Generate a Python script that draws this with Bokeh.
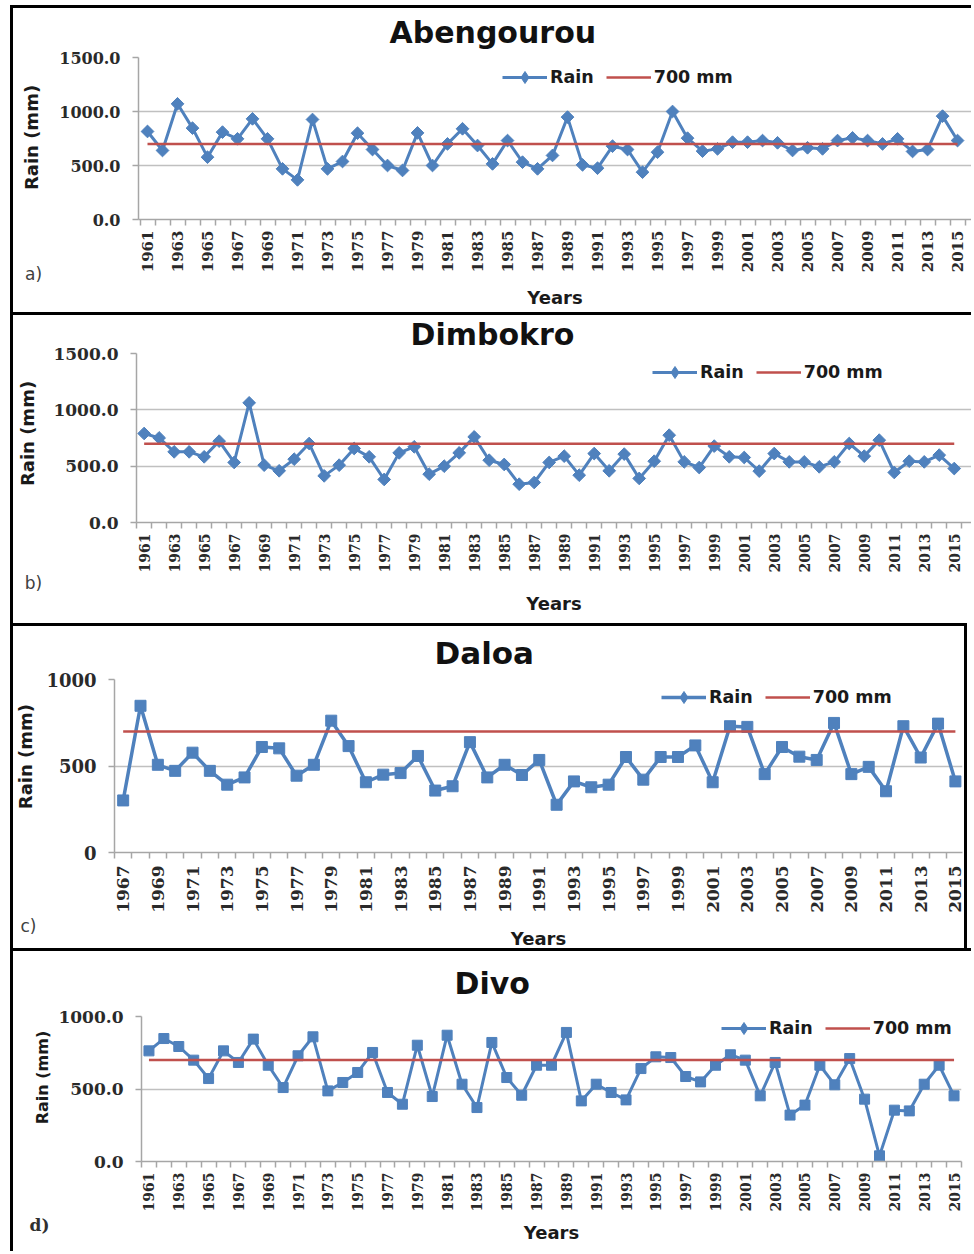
import numpy as np
from bokeh.plotting import figure
from bokeh.layouts import column, row
from bokeh.models import (FixedTicker, NumeralTickFormatter, Label, Legend,
                          LegendItem, Range1d, Spacer)
from bokeh.embed import file_html
from bokeh.resources import INLINE

# ---------------- data ----------------
years_1961 = list(range(1961, 2016))
years_1967 = list(range(1967, 2016))
threshold = 700

abengourou = [815, 639, 1071, 846, 577, 809, 747, 932, 747, 469, 367, 926, 469,
              537, 799, 648, 500, 454, 802, 500, 700, 840, 685, 515, 731, 531,
              469, 593, 948, 506, 475, 679, 648, 438, 623, 1000, 753, 633, 654,
              716, 716, 731, 710, 639, 664, 654, 731, 756, 731, 700, 747, 630,
              648, 957, 731]
dimbokro = [790, 751, 627, 627, 583, 722, 533, 1062, 509, 459, 562, 701, 414,
            509, 657, 583, 382, 618, 672, 429, 500, 618, 760, 553, 515, 340,
            355, 533, 589, 420, 612, 459, 607, 391, 544, 775, 538, 488, 678,
            583, 577, 456, 612, 538, 538, 494, 538, 701, 589, 731, 444, 544,
            538, 598, 479]
daloa = [301, 848, 507, 472, 577, 472, 392, 434, 610, 602, 444, 507, 762, 615,
         406, 450, 459, 558, 358, 383, 638, 434, 507, 448, 535, 276, 411, 377,
         392, 552, 421, 552, 552, 619, 406, 730, 726, 453, 610, 554, 535, 749,
         453, 495, 354, 730, 549, 745, 411]
divo = [763, 848, 793, 699, 572, 763, 683, 844, 664, 510, 729, 860, 487, 545,
        614, 752, 476, 395, 802, 448, 871, 533, 372, 821, 579, 457, 664, 664,
        890, 418, 533, 476, 425, 641, 722, 717, 586, 549, 664, 736, 699, 453,
        683, 320, 389, 664, 529, 710, 430, 39, 354, 349, 533, 664, 453]

series_label = "Rain"
threshold_label = "700 mm"
y_title = "Rain (mm)"
x_title = "Years"

BLUE = "#4F81BD"
RED = "#C0504D"
GRID = "#C0C0C0"
AXIS = "#A6A6A6"
SANS = "DejaVu Sans"
SERIF = "DejaVu Serif"

BORDER = "3px solid black"


def side_strip(letter, s):
    """Narrow strip left of the chart holding the y title and the panel letter."""
    W, H = s["lw_"], s["h"]
    sl = s["sml"]
    f = figure(width=W, height=H, output_backend="svg", toolbar_location=None,
               x_range=Range1d(sl, W), y_range=Range1d(H - s["mb"], s["mt"]),
               y_axis_type=None, min_border_left=sl, min_border_right=0,
               min_border_top=s["mt"], min_border_bottom=s["mb"])
    f.title.visible = False
    f.outline_line_color = None
    f.border_fill_color = "white"
    f.background_fill_color = "white"
    f.xgrid.visible = False
    f.styles = {"border-top": BORDER, "border-left": BORDER}
    ax = f.xaxis[0]
    ax.ticker = FixedTicker(ticks=[])
    ax.axis_line_color = None
    ax.major_tick_line_color = None
    ax.minor_tick_line_color = None
    ax.major_tick_out = 0
    ax.minor_tick_out = 0
    ax.major_label_standoff = 0
    ax.axis_label = letter
    ax.axis_label_standoff = s["lst"]
    ax.axis_label_text_font = s["lf"]
    ax.axis_label_text_font_style = s["lfs"]
    ax.axis_label_text_font_size = "17px"
    ax.axis_label_text_color = s["lc"]
    f.add_layout(Label(x=s["ytx"], y=s["yty"], text=y_title, angle=np.pi / 2,
                       text_align="center", text_baseline="middle",
                       text_font=SANS, text_font_style="bold",
                       text_font_size=s["ylfs"], text_color="#1a1a1a"))
    return f


def chart(name, yrs, vals, ymax, fmt, s):
    p = figure(width=s["w"], height=s["h"], output_backend="svg",
               toolbar_location=None,
               x_range=Range1d(*s["xr"]), y_range=Range1d(0, ymax),
               min_border_left=s["ml"], min_border_right=s["mr"],
               min_border_top=s["mt"], min_border_bottom=s["mb"])
    p.outline_line_color = None
    p.background_fill_color = "white"
    p.border_fill_color = "white"
    p.styles = s["css"]

    # title
    p.title.text = name
    p.title.align = "left"
    p.title.offset = s["toff"]
    p.title.standoff = s["tstand"]
    p.title.vertical_align = "top"
    p.title.text_font = SANS
    p.title.text_font_style = "bold"
    p.title.text_font_size = s["tfs"]
    p.title.text_color = "#111111"

    # grid
    p.xgrid.visible = False
    p.ygrid.grid_line_color = GRID
    p.ygrid.grid_line_width = 1.5

    # x axis
    xa = p.xaxis[0]
    xa.ticker = FixedTicker(ticks=yrs[::2],
                            minor_ticks=[y - 0.5 for y in yrs] + [yrs[-1] + 0.5])
    xa.axis_line_color = AXIS
    xa.axis_line_width = 1.5
    xa.major_tick_line_color = None
    xa.minor_tick_line_color = AXIS
    xa.minor_tick_line_width = 1.5
    xa.minor_tick_in = 0
    xa.minor_tick_out = 6
    xa.major_tick_out = 6
    xa.major_label_orientation = np.pi / 2
    xa.major_label_text_font = SERIF
    xa.major_label_text_font_style = "bold"
    xa.major_label_text_font_size = s["xfs"]
    xa.major_label_text_color = "#2a2a2a"
    xa.major_label_standoff = s["xst"]
    xa.axis_label = x_title
    xa.axis_label_text_font = SANS
    xa.axis_label_text_font_style = "bold"
    xa.axis_label_text_font_size = "18px"
    xa.axis_label_text_color = "#1a1a1a"
    xa.axis_label_standoff = s["xls"]

    # y axis
    ya = p.yaxis[0]
    ya.ticker = FixedTicker(ticks=list(range(0, ymax + 1, 500)))
    ya.formatter = NumeralTickFormatter(format=fmt)
    ya.axis_line_color = AXIS
    ya.axis_line_width = 1.5
    ya.major_tick_line_color = AXIS
    ya.major_tick_line_width = 1.5
    ya.major_tick_in = 0
    ya.major_tick_out = 6
    ya.minor_tick_line_color = None
    ya.major_label_text_font = SERIF
    ya.major_label_text_font_style = "bold"
    ya.major_label_text_font_size = s["yfs"]
    ya.major_label_text_color = "#2a2a2a"
    ya.major_label_standoff = 12

    # series
    lr = p.line(yrs, vals, line_color=BLUE, line_width=s["lw"])
    # small diamonds hidden beneath the markers; they give the legend its
    # diamond key, as in the Excel original
    key = p.scatter(yrs, vals, marker="diamond", size=5,
                    fill_color=BLUE, line_color=BLUE)
    p.scatter(yrs, vals, marker="square", size=s["ms"], angle=s["ang"],
              fill_color=BLUE, line_color=BLUE)
    tr = p.segment(x0=yrs[0], y0=threshold, x1=yrs[-1], y1=threshold,
                   line_color=RED, line_width=2.5)

    leg = Legend(items=[LegendItem(label=series_label, renderers=[lr, key]),
                        LegendItem(label=threshold_label, renderers=[tr])],
                 location=s["leg"], orientation="horizontal",
                 border_line_color=None, background_fill_alpha=0,
                 padding=0, margin=0, spacing=12, glyph_width=45,
                 glyph_height=30, label_height=20, label_standoff=3,
                 label_text_font=SANS, label_text_font_style="bold",
                 label_text_font_size="17.5px", label_text_color="#1a1a1a")
    p.add_layout(leg)
    return p


def panel(name, letter, yrs, vals, ymax, fmt, s):
    left = side_strip(letter, s)
    main = chart(name, yrs, vals, ymax, fmt, s)
    return row(Spacer(width=10, height=s["h"]), left, main)


top_css = {"border-top": BORDER}
right_css = {"border-top": BORDER, "border-right": BORDER}

ra = panel("Abengourou", "a)", years_1961, abengourou, 1500, "0.0",
           dict(h=307, lw_=40, sml=0, w=921, ml=88, mr=0, mt=49, mb=96,
                xr=(1960.4, 2015.93), leg=(364, 127), toff=251, tstand=12,
                tfs="30px", ytx=18, yty=129, ylfs="18px", lst=44,
                lf=SANS, lfs="normal", lc="#404040", xfs="15px", xst=5,
                yfs="16px", xls=12, lw=3, ms=9, ang=np.pi / 4, css=top_css))
rb = panel("Dimbokro", "b)", years_1961, dimbokro, 1500, "0.0",
           dict(h=311, lw_=40, sml=0, w=921, ml=86, mr=0, mt=38, mb=104,
                xr=(1960.49, 2016.15), leg=(516, 135), toff=274, tstand=0,
                tfs="30px", ytx=14, yty=118, ylfs="18px", lst=50,
                lf=SANS, lfs="normal", lc="#404040", xfs="14px", xst=5,
                yfs="17px", xls=18, lw=3, ms=9, ang=np.pi / 4, css=top_css))
rc = panel("Daloa", "c)", years_1967, daloa, 1000, "0",
           dict(h=325, lw_=30, sml=0, w=927, ml=74, mr=5, mt=53, mb=97,
                xr=(1966.5, 2015.41), leg=(547, 140), toff=320, tstand=14,
                tfs="31px", ytx=12, yty=131, ylfs="18px", lst=63,
                lf=SANS, lfs="normal", lc="#404040", xfs="17px", xst=7,
                yfs="18px", xls=12, lw=3.5, ms=11, ang=0, css=right_css))
rd = panel("Divo", "d)", years_1961, divo, 1000, "0.0",
           dict(h=303, lw_=42, sml=10, w=919, ml=89, mr=10, mt=65, mb=93,
                xr=(1960.5, 2015.5), leg=(580, 118), toff=313, tstand=28,
                tfs="30px", ytx=29, yty=126, ylfs="16px", lst=53,
                lf=SERIF, lfs="bold", lc="#303030", xfs="14px", xst=5,
                yfs="17px", xls=8, lw=3, ms=10, ang=0, css=top_css))

layout = column(Spacer(width=974, height=5), ra, rb, rc, rd)
open("out.html", "w").write(file_html(layout, INLINE))
